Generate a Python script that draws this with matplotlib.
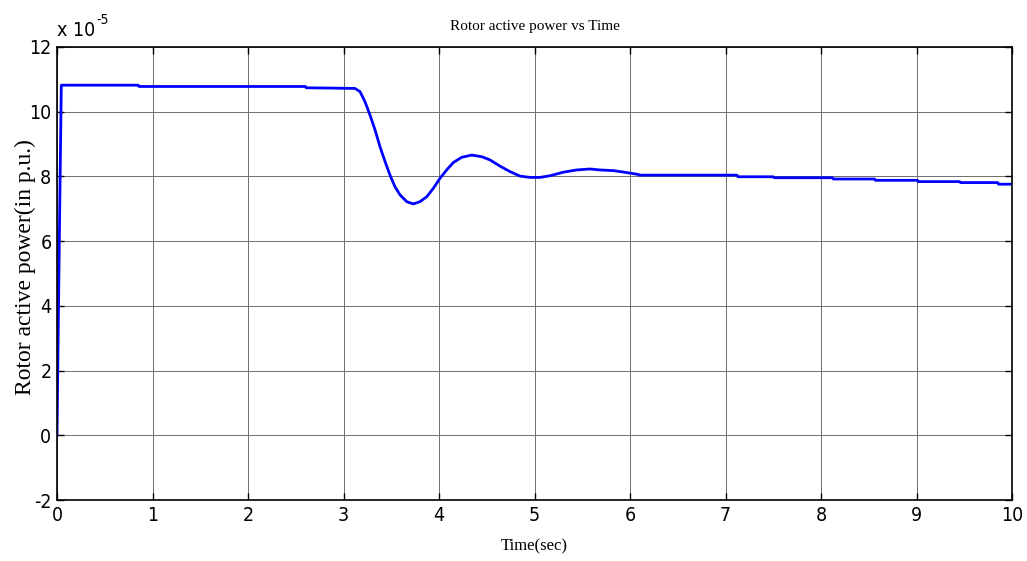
import matplotlib
matplotlib.use('Agg')
import matplotlib.pyplot as plt

plt.rcParams['axes.unicode_minus'] = False

# time (s) and rotor active power (x 1e-5 p.u.)
time_s = [0.0, 0.02, 0.045, 0.85, 0.86, 2.6, 2.61, 3.12, 3.173, 3.225, 3.277, 3.33, 3.382,
          3.435, 3.487, 3.539, 3.592, 3.662, 3.731, 3.801, 3.871, 3.94, 4.01, 4.08, 4.15,
          4.237, 4.342, 4.447, 4.534, 4.638, 4.743, 4.848, 4.953, 5.057, 5.162, 5.301,
          5.441, 5.581, 5.686, 5.825, 5.965, 6.087, 6.10, 7.12, 7.13, 7.50, 7.51, 8.12,
          8.13, 8.56, 8.57, 9.01, 9.02, 9.45, 9.46, 9.85, 9.86, 10.0]
power = [0.0, 5.0, 10.82, 10.82, 10.78, 10.78, 10.74, 10.72, 10.62, 10.31, 9.90, 9.44, 8.92,
         8.46, 8.04, 7.68, 7.43, 7.22, 7.15, 7.22, 7.37, 7.63, 7.94, 8.20, 8.43,
         8.59, 8.66, 8.61, 8.51, 8.32, 8.15, 8.01, 7.97, 7.97, 8.02, 8.13,
         8.20, 8.23, 8.20, 8.18, 8.12, 8.06, 8.04, 8.04, 7.99, 7.99, 7.96, 7.96,
         7.92, 7.92, 7.88, 7.88, 7.84, 7.84, 7.81, 7.81, 7.76, 7.76]

xticks = list(range(0, 11))
yticks = list(range(-2, 13, 2))

fig = plt.figure(figsize=(10.27, 5.61), dpi=100)
ax = fig.add_axes([57/1027, 1 - 500/561, (1012-57)/1027, (500-47)/561])

ax.plot(time_s, power, color='#0000ff', linewidth=2)

ax.set_xlim(0, 10)
ax.set_ylim(-2, 12)
ax.set_xticks(xticks)
ax.set_yticks(yticks)
ax.grid(True, color='#6e6e6e', linewidth=0.7)

ax.tick_params(direction='in', top=True, right=True, length=5, width=1, pad=4)
for lab in ax.get_xticklabels() + ax.get_yticklabels():
    lab.set_family('DejaVu Sans')
    lab.set_stretch('condensed')
    lab.set_fontsize(14)
for sp in ax.spines.values():
    sp.set_linewidth(1.2)

# exponent label above the y axis
ax.text(0.0, 1.015, 'x 10', transform=ax.transAxes,
        family='DejaVu Sans', stretch='condensed', fontsize=14, ha='left', va='bottom')
ax.text(0.041, 1.045, '-5', transform=ax.transAxes,
        family='DejaVu Sans', stretch='condensed', fontsize=10, ha='left', va='bottom')

serif = 'Liberation Serif'
ax.set_title('Rotor active power vs Time', family=serif, fontsize=11, pad=12)
ax.set_xlabel('Time(sec)', family=serif, fontsize=12)
ax.xaxis.set_label_coords(0.5, -0.085)
ax.set_ylabel('Rotor active power(in p.u.)', family=serif, fontsize=17)
ax.yaxis.set_label_coords(-0.022, 0.515)

fig.savefig('out.png', dpi=100)
